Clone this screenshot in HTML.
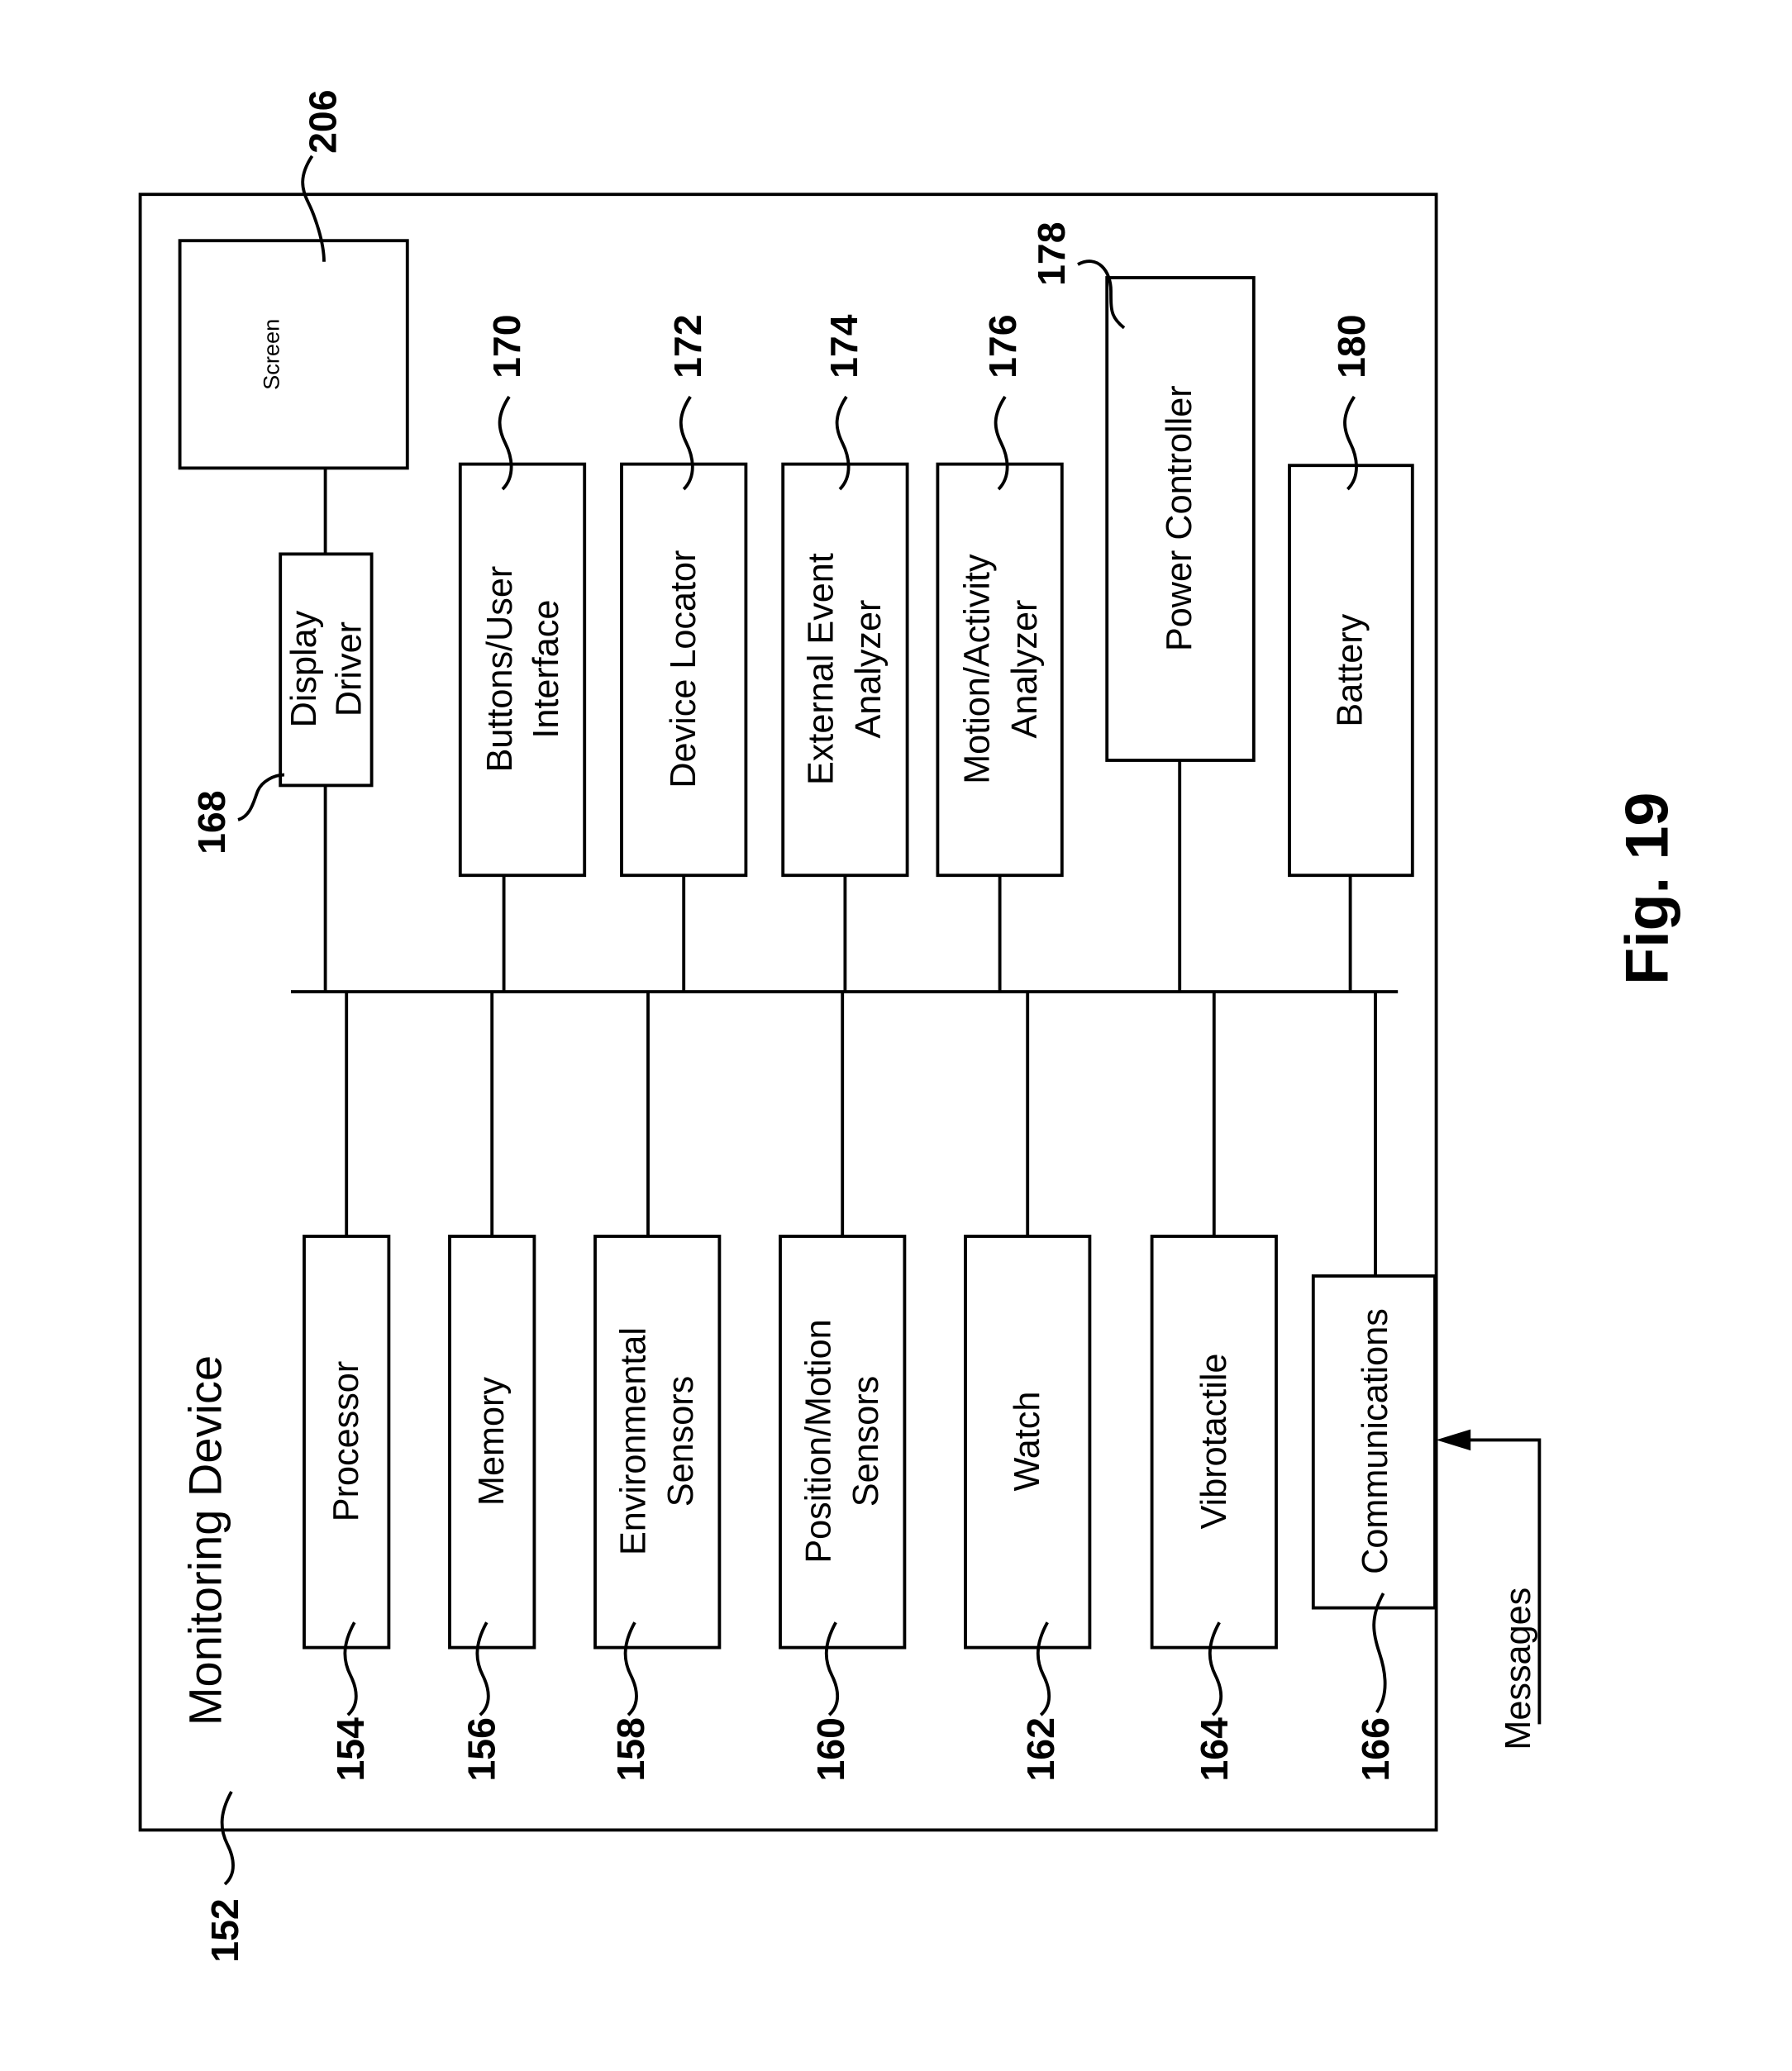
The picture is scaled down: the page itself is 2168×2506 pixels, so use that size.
<!DOCTYPE html>
<html><head><meta charset="utf-8"><style>
html,body{margin:0;padding:0;background:#fff;}
svg{display:block;}
text{font-family:"Liberation Sans",Arial,sans-serif;fill:#000;}
</style></head><body>
<svg width="2168" height="2506" viewBox="0 0 1355 1566.25" xmlns="http://www.w3.org/2000/svg">
<g fill="none" stroke="#000" stroke-width="2.4">
<rect x="106" y="147" width="980" height="1237"/>
<rect x="136" y="182" width="172" height="172"/>
<rect x="212" y="419" width="69" height="175"/>
<rect x="348" y="351" width="94" height="311"/>
<rect x="470" y="351" width="94" height="311"/>
<rect x="592" y="351" width="94" height="311"/>
<rect x="709" y="351" width="94" height="311"/>
<rect x="837" y="210" width="111" height="365"/>
<rect x="975" y="352" width="93" height="310"/>
<rect x="230" y="935" width="64" height="311"/>
<rect x="340" y="935" width="64" height="311"/>
<rect x="450" y="935" width="94" height="311"/>
<rect x="590" y="935" width="94" height="311"/>
<rect x="730" y="935" width="94" height="311"/>
<rect x="871" y="935" width="94" height="311"/>
<rect x="993" y="965" width="92" height="251"/>
<path d="M220 750H1057"/>
<path d="M246 354V419M246 594V750"/>
<path d="M381 662V750M517 662V750M639 662V750M756 662V750M892 575V750M1021 662V750"/>
<path d="M262 750V935M372 750V935M490 750V935M637 750V935M777 750V935M918 750V935M1040 750V965"/>
<path d="M1164 1304V1089H1110"/>
<!-- bottom squiggles -->
<path d="M268 1227c-10 18-8 30-3 40s7 22-2 30"/>
<path d="M368 1227c-10 18-8 30-3 40s7 22-2 30"/>
<path d="M480 1227c-10 18-8 30-3 40s7 22-2 30"/>
<path d="M632 1227c-10 18-8 30-3 40s7 22-2 30"/>
<path d="M792 1227c-10 18-8 30-3 40s7 22-2 30"/>
<path d="M922 1227c-10 18-8 30-3 40s7 22-2 30"/>
<path d="M1046 1205c-10 18-8 30-3 45s7 32-2 45"/>
<path d="M175 1355c-10 18-8 30-3 40s7 22-2 30"/>
<!-- top squiggles -->
<path d="M385 300c-10 15-8 25-3 35s8 25-2 35"/>
<path d="M522 300c-10 15-8 25-3 35s8 25-2 35"/>
<path d="M640 300c-10 15-8 25-3 35s8 25-2 35"/>
<path d="M760 300c-10 15-8 25-3 35s8 25-2 35"/>
<path d="M1024 300c-10 15-8 25-3 35s8 25-2 35"/>
<path d="M236 118c-10 15-8 25-3 35s12 30 12 45"/>
<path d="M815 200c15 -8 25 5 25 20s0 20 10 28"/>
<path d="M180 620c10 -3 12 -15 15 -22s12 -12 20 -12"/>
</g>
<polygon points="1086,1089 1112,1081 1112,1097" fill="#000"/>
<g font-size="27" text-anchor="middle" dominant-baseline="central">
<text transform="translate(205,268) rotate(-90)" font-size="17">Screen</text>
<text transform="translate(230,506) rotate(-90)">Display</text>
<text transform="translate(264,506) rotate(-90)">Driver</text>
<text transform="translate(378,506) rotate(-90)">Buttons/User</text>
<text transform="translate(413,506) rotate(-90)">Interface</text>
<text transform="translate(517,506) rotate(-90)">Device Locator</text>
<text transform="translate(621,506) rotate(-90)">External Event</text>
<text transform="translate(657,506) rotate(-90)">Analyzer</text>
<text transform="translate(739,506) rotate(-90)">Motion/Activity</text>
<text transform="translate(775,506) rotate(-90)">Analyzer</text>
<text transform="translate(892,392) rotate(-90)">Power Controller</text>
<text transform="translate(1021,507) rotate(-90)">Battery</text>
<text transform="translate(262,1090) rotate(-90)">Processor</text>
<text transform="translate(372,1090) rotate(-90)">Memory</text>
<text transform="translate(479,1090) rotate(-90)">Environmental</text>
<text transform="translate(515,1090) rotate(-90)">Sensors</text>
<text transform="translate(619,1090) rotate(-90)">Position/Motion</text>
<text transform="translate(655,1090) rotate(-90)">Sensors</text>
<text transform="translate(777,1090) rotate(-90)">Watch</text>
<text transform="translate(918,1090) rotate(-90)">Vibrotactile</text>
<text transform="translate(1040,1090) rotate(-90)">Communications</text>
<text transform="translate(1148,1262) rotate(-90)">Messages</text>
<text transform="translate(155,1165) rotate(-90)" font-size="35">Monitoring Device</text>
</g>
<g font-size="29" font-weight="bold" text-anchor="middle" dominant-baseline="central">
<text transform="translate(265,1323) rotate(-90)">154</text>
<text transform="translate(364,1323) rotate(-90)">156</text>
<text transform="translate(477,1323) rotate(-90)">158</text>
<text transform="translate(628,1323) rotate(-90)">160</text>
<text transform="translate(787,1323) rotate(-90)">162</text>
<text transform="translate(918,1323) rotate(-90)">164</text>
<text transform="translate(1040,1323) rotate(-90)">166</text>
<text transform="translate(170,1460) rotate(-90)">152</text>
<text transform="translate(160,622) rotate(-90)">168</text>
<text transform="translate(383,262) rotate(-90)">170</text>
<text transform="translate(520,262) rotate(-90)">172</text>
<text transform="translate(638,262) rotate(-90)">174</text>
<text transform="translate(758,262) rotate(-90)">176</text>
<text transform="translate(795,192) rotate(-90)">178</text>
<text transform="translate(1022,262) rotate(-90)">180</text>
<text transform="translate(244,92) rotate(-90)">206</text>
<text transform="translate(1245,672) rotate(-90)" font-size="46">Fig. 19</text>
</g>
</svg>
</body></html>
